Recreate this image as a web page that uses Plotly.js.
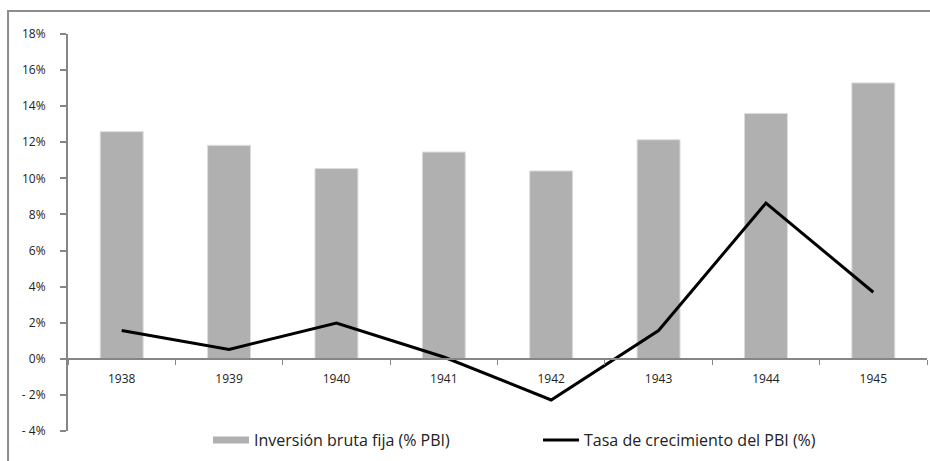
<!DOCTYPE html>
<html>
<head>
<meta charset="utf-8">
<script src="https://cdn.plot.ly/plotly-3.0.1.min.js"></script>
<style>html,body{margin:0;padding:0;background:#fff}#chart{width:930px;height:461px}</style>
</head>
<body>
<div id="chart"></div>
<script>
var years = ['1938','1939','1940','1941','1942','1943','1944','1945'];
var inversion = [12.59, 11.83, 10.54, 11.46, 10.41, 12.14, 13.60, 15.29];
var crecimiento = [1.57, 0.52, 1.98, 0.10, -2.28, 1.57, 8.63, 3.69];
var yTickVals = [-4, -2, 0, 2, 4, 6, 8, 10, 12, 14, 16, 18];
var yTickText = ['- 4%', '- 2%', '0%', '2%', '4%', '6%', '8%', '10%', '12%', '14%', '16%', '18%'];
var name1 = 'Inversión bruta fija (% PBI)';
var name2 = 'Tasa de crecimiento del PBI (%)';

var FONT = '"Open Sans", Lato, sans-serif';

var traces = [
  {type: 'bar', x: years, y: inversion, name: name1, showlegend: false,
   marker: {color: '#b0b0b0', line: {color: '#dcdcdc', width: 1}}, width: 0.4},
  {type: 'scatter', mode: 'lines', x: [null], y: [null], name: name1,
   line: {color: '#b0b0b0', width: 7}, hoverinfo: 'skip'},
  {type: 'scatter', mode: 'lines', x: years, y: crecimiento, name: name2,
   line: {color: '#000000', width: 3}}
];

var layout = {
  width: 930, height: 461,
  margin: {l: 68, r: 3, t: 34, b: 30},
  paper_bgcolor: '#ffffff', plot_bgcolor: '#ffffff',
  font: {family: FONT, size: 12, color: '#222'},
  showlegend: true,
  legend: {orientation: 'h', x: 0.163, xanchor: 'left', y: -0.023, yanchor: 'middle',
           font: {size: 16, color: '#222'}, entrywidth: 279, itemwidth: 36,
           bgcolor: 'rgba(0,0,0,0)'},
  xaxis: {type: 'category', anchor: 'free', position: 4/22,
          showline: true, linecolor: '#868686', linewidth: 2,
          ticks: 'outside', tickson: 'boundaries', ticklen: 5, tickcolor: '#868686', tickwidth: 1,
          ticklabelstandoff: 9, showgrid: false, zeroline: false,
          tickfont: {size: 12, color: '#222'}, fixedrange: true},
  yaxis: {range: [-4, 18], tickvals: yTickVals, ticktext: yTickText,
          showline: true, linecolor: '#868686', linewidth: 2,
          ticks: 'outside', ticklen: 6, tickcolor: '#868686', tickwidth: 2,
          ticklabelstandoff: 12, showgrid: false, zeroline: false,
          tickfont: {size: 12, color: '#222'}, fixedrange: true},
  shapes: [{type: 'rect', xref: 'paper', yref: 'paper',
            x0: -0.0698, x1: 1.2, y0: -0.3, y1: 1.058,
            line: {color: '#8c8c8c', width: 2}, fillcolor: 'rgba(0,0,0,0)', layer: 'below'}]
};

Plotly.newPlot('chart', traces, layout, {displayModeBar: false, staticPlot: true});
</script>
</body>
</html>
